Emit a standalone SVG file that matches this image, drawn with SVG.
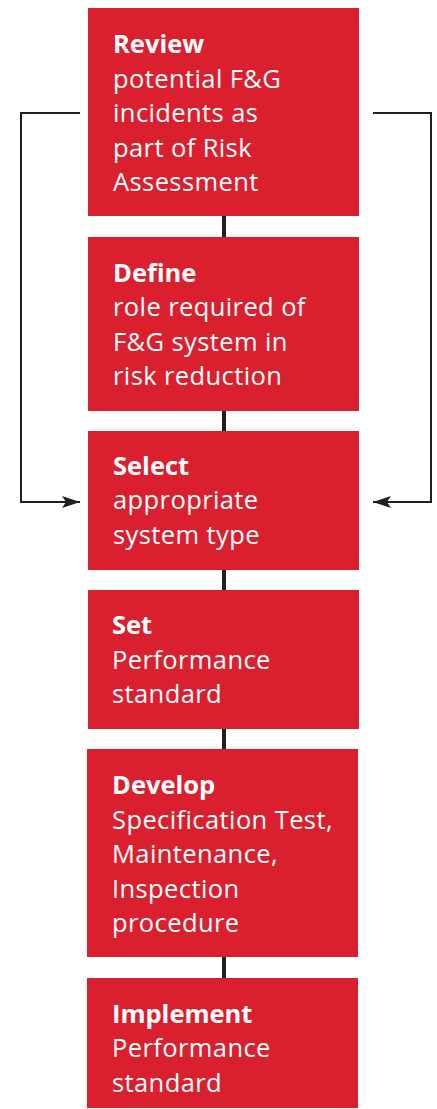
<svg xmlns="http://www.w3.org/2000/svg" width="437" height="1109" viewBox="0 0 437 1109">
<style>
.box{fill:#DA1F2F}
.t{font-family:"Open Sans","Liberation Sans",Arial,sans-serif;font-size:25.5px;letter-spacing:0.4px;fill:#fff}
.b{font-weight:bold;letter-spacing:0}
.link{stroke:#231F20;stroke-width:4;fill:none}
.fb{stroke:#231F20;stroke-width:2;fill:none}
</style>
<defs>
<marker id="ah" viewBox="0 0 18 12" refX="18" refY="6" markerWidth="18" markerHeight="12" markerUnits="userSpaceOnUse" orient="auto">
<path d="M0,0 L18,6 L0,12 L4,6 Z" fill="#231F20"/>
</marker>
</defs>
<g id="connectors">
<line class="link" x1="224" y1="216" x2="224" y2="237"/>
<line class="link" x1="224" y1="411" x2="224" y2="431"/>
<line class="link" x1="224" y1="570" x2="224" y2="590"/>
<line class="link" x1="224" y1="729" x2="224" y2="749"/>
<line class="link" x1="224" y1="957" x2="224" y2="978"/>
<path class="fb" d="M80,113 H21 V502 H80" marker-end="url(#ah)"/>
<path class="fb" d="M373,113 H431 V502 H373" marker-end="url(#ah)"/>
</g>
<g id="review">
<rect class="box" x="88" y="8" width="271" height="208"/>
<text class="t b" x="113" y="53">Review</text>
<text class="t" x="113" y="88">potential F&amp;G</text>
<text class="t" x="113" y="122">incidents as</text>
<text class="t" x="113" y="157">part of Risk</text>
<text class="t" x="113" y="191">Assessment</text>
</g>
<g id="define">
<rect class="box" x="88" y="237" width="271" height="174"/>
<text class="t b" x="113" y="282">Define</text>
<text class="t" x="113" y="316">role required of</text>
<text class="t" x="113" y="351">F&amp;G system in</text>
<text class="t" x="113" y="385">risk reduction</text>
</g>
<g id="select">
<rect class="box" x="88" y="431" width="271" height="139"/>
<text class="t b" x="113" y="475">Select</text>
<text class="t" x="113" y="509">appropriate</text>
<text class="t" x="113" y="544">system type</text>
</g>
<g id="set">
<rect class="box" x="88" y="590" width="271" height="139"/>
<text class="t b" x="112" y="634">Set</text>
<text class="t" x="112" y="669">Performance</text>
<text class="t" x="112" y="703">standard</text>
</g>
<g id="develop">
<rect class="box" x="87" y="749" width="271" height="208"/>
<text class="t b" x="112" y="794">Develop</text>
<text class="t" x="112" y="829">Specification Test,</text>
<text class="t" x="112" y="863">Maintenance,</text>
<text class="t" x="112" y="898">Inspection</text>
<text class="t" x="112" y="932">procedure</text>
</g>
<g id="implement">
<rect class="box" x="87" y="978" width="271" height="130"/>
<text class="t b" x="112" y="1023">Implement</text>
<text class="t" x="112" y="1057">Performance</text>
<text class="t" x="112" y="1092">standard</text>
</g>
</svg>
